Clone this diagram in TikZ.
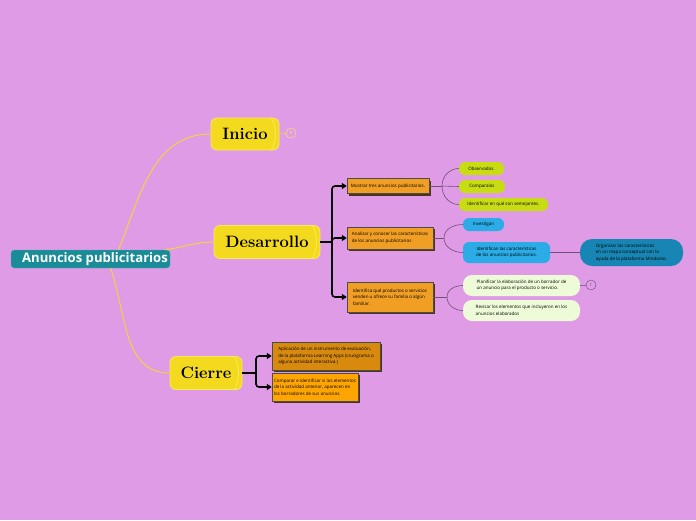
\documentclass[tikz,border=0pt]{standalone}
\usepackage{fontspec}
\newfontfamily\mapfont{Open Sans}
\usetikzlibrary{arrows.meta,shadows}
\definecolor{bgpink}{RGB}{223,155,230}
\definecolor{rootteal}{RGB}{26,140,152}
\definecolor{phaseyel}{RGB}{244,218,30}
\definecolor{phaseedge}{RGB}{252,234,90}
\definecolor{branchyel}{RGB}{246,210,60}
\definecolor{taskorange}{RGB}{240,158,36}
\definecolor{taskdark}{RGB}{216,138,14}
\definecolor{tasklight}{RGB}{255,165,0}
\definecolor{limegreen}{RGB}{200,220,20}
\definecolor{skyblue}{RGB}{44,172,230}
\definecolor{deepblue}{RGB}{24,134,180}
\definecolor{palegreen}{RGB}{238,251,216}
\definecolor{thinline}{RGB}{110,80,120}
\tikzset{
	roottopic/.style={rounded corners=3pt, fill=rootteal, draw=rootteal!70!white,
		text=white, font=\mapfont\fontsize{13.1}{15}\selectfont\bfseries,
		minimum width=159pt, minimum height=18pt, inner sep=0pt},
	phase/.style={rounded corners=6pt, fill=phaseyel, draw=phaseedge, line width=0.8pt,
		font=\fontsize{16.5}{18}\selectfont\bfseries, minimum height=33pt, inner sep=0pt},
	task/.style={fill=#1, draw=black!70, drop shadow={shadow xshift=2pt, shadow yshift=-2pt,
		fill=black!60!brown, opacity=1}, font=\mapfont\fontsize{4.5}{6.5}\selectfont,
		align=left, inner sep=0pt, text=black},
	leaf/.style={rounded corners=6pt, fill=#1, draw=none,
		font=\mapfont\fontsize{4.5}{6.5}\selectfont, align=left, inner sep=0pt, text=black},
	counter/.style={circle, draw=#1, minimum size=10pt, inner sep=0pt,
		font=\mapfont\fontsize{4.5}{5}\selectfont},
	branch/.style={draw=branchyel, line width=1pt},
	bracket/.style={draw=black, line width=1.6pt, rounded corners=3pt},
	pointer/.style={bracket, -{Triangle[width=6pt,length=5pt]}},
	twig/.style={draw=thinline, line width=0.6pt},
}
\newcommand{\cylend}[1]{\draw[phaseedge, line width=0.7pt] ([xshift=-8pt]#1.north east) to[bend left=25] ([xshift=-8pt]#1.south east);}
\begin{document}
\begin{tikzpicture}[x=1pt,y=-1pt]
	\fill[bgpink] (0,0) rectangle (696,520);
	\useasboundingbox (0,0) rectangle (696,520);
	% main topic and phases
	\node (root) at (90.5,259) [roottopic] {\hspace*{9pt}Anuncios publicitarios};
	\node (inicio) at (245,134) [phase, minimum width=68pt, minimum height=32pt] {Inicio};
	\node (desarrollo) at (267,242) [phase, minimum width=106pt] {Desarrollo};
	\node (cierre) at (206,373) [phase, minimum width=72pt] {Cierre};
	\cylend{inicio}
	\cylend{desarrollo}
	\cylend{cierre}
	\node (cnt3) at (291,133) [counter=phaseedge, text=phaseedge] {3};
	\draw[branch] ([xshift=28pt]root.north) to[out=68,in=180] (inicio.west);
	\draw[branch] ([xshift=75pt]root.north) to[out=8,in=180] (desarrollo.west);
	\draw[branch] ([xshift=20pt]root.south) to[out=-70,in=180] (cierre.west);
	\draw[branch, line width=0.6pt] (inicio.east) -- (cnt3);
	% desarrollo tasks
	\node (mostrar) at (388,186) [task=taskorange, minimum width=82pt, minimum height=15pt]
		{Mostrar tres anuncios publicitarios.};
	\node (analizar) at (390,238) [task=taskorange, minimum width=86pt, minimum height=22pt]
		{Analizar y conocer las características\\de los anuncios publicitarios};
	\node (identifica) at (390,297) [task=taskorange, minimum width=86pt, minimum height=30pt]
		{Identifica qué productos o servicios\\venden u ofrece su familia o algún\\familiar.};
	\coordinate (jdes) at (332,242);
	\draw[bracket] (desarrollo.east) -- (jdes);
	\draw[pointer] (jdes) |- (mostrar.west);
	\draw[pointer] (jdes) |- (analizar.west);
	\draw[pointer] (jdes) |- (identifica.west);
	% mostrar leaves
	\node (observados) at (481.5,168.5) [leaf=limegreen, minimum width=45pt, minimum height=13pt] {Observados.};
	\node (comparalos) at (482,186.5) [leaf=limegreen, minimum width=46pt, minimum height=13pt] {Comparalos};
	\node (semejantes) at (503.5,204.5) [leaf=limegreen, minimum width=89pt, minimum height=13pt] {Identificar en qué son semejantes.};
	\coordinate (jmos) at (442,186);
	\draw[twig] (mostrar.east) -- (jmos);
	\draw[twig] (jmos) to[out=90,in=180] (observados.west);
	\draw[twig] (jmos) -- (comparalos.west);
	\draw[twig] (jmos) to[out=-90,in=180] (semejantes.west);
	% analizar leaves
	\node (investigan) at (483.5,224.5) [leaf=skyblue, minimum width=41pt, minimum height=13pt] {Investigan};
	\node (caracter) at (506.5,252.5) [leaf=skyblue, minimum width=87pt, minimum height=21pt, align=center]
		{Identifican las características\\de los anuncios publicitarios.};
	\node (organizar) at (631.5,252.5) [leaf=deepblue, rounded corners=12pt, minimum width=103pt, minimum height=27pt]
		{Organizar las características\\en un mapa conceptual con la\\ayuda de la plataforma Mindomo.};
	\coordinate (jana) at (444,238);
	\draw[twig] (analizar.east) -- (jana);
	\draw[twig] (jana) to[out=90,in=180] (investigan.west);
	\draw[twig] (jana) to[out=-90,in=180] (caracter.west);
	\draw[twig] (caracter.east) -- (organizar.west);
	% identifica leaves
	\node (planificar) at (521.5,285.5) [leaf=palegreen, rounded corners=9pt, minimum width=117pt, minimum height=21pt]
		{Planificar la elaboración de un borrador de\\un anuncio para el producto o servicio.};
	\node (revisar) at (521.5,310.5) [leaf=palegreen, rounded corners=9pt, minimum width=117pt, minimum height=21pt]
		{Revisar los elementos que incluyeron en los\\anuncios elaborados};
	\node (cnt1) at (591,285) [counter=thinline, text=thinline] {1};
	\coordinate (jide) at (447,297);
	\draw[twig] (identifica.east) -- (jide);
	\draw[twig] (jide) to[out=90,in=180] (planificar.west);
	\draw[twig] (jide) to[out=-90,in=180] (revisar.west);
	\draw[twig] (planificar.east) -- (cnt1);
	% cierre tasks
	\node (aplicacion) at (326,356) [task=taskdark, minimum width=108pt, minimum height=28pt]
		{Aplicación de un instrumento de evaluación,\\de la plataforma Learning Apps (crucigrama o\\alguna actividad interactiva.)};
	\node (comparar) at (315,387) [task=tasklight, minimum width=86pt, minimum height=28pt]
		{Comparar e identificar si los elementos\\de la actividad anterior, aparecen en\\los borradores de sus anuncios.};
	\coordinate (jcie) at (256,373);
	\draw[bracket] (cierre.east) -- (jcie);
	\draw[pointer] (jcie) |- (aplicacion.west);
	\draw[pointer] (jcie) |- (comparar.west);
\end{tikzpicture}
\end{document}
